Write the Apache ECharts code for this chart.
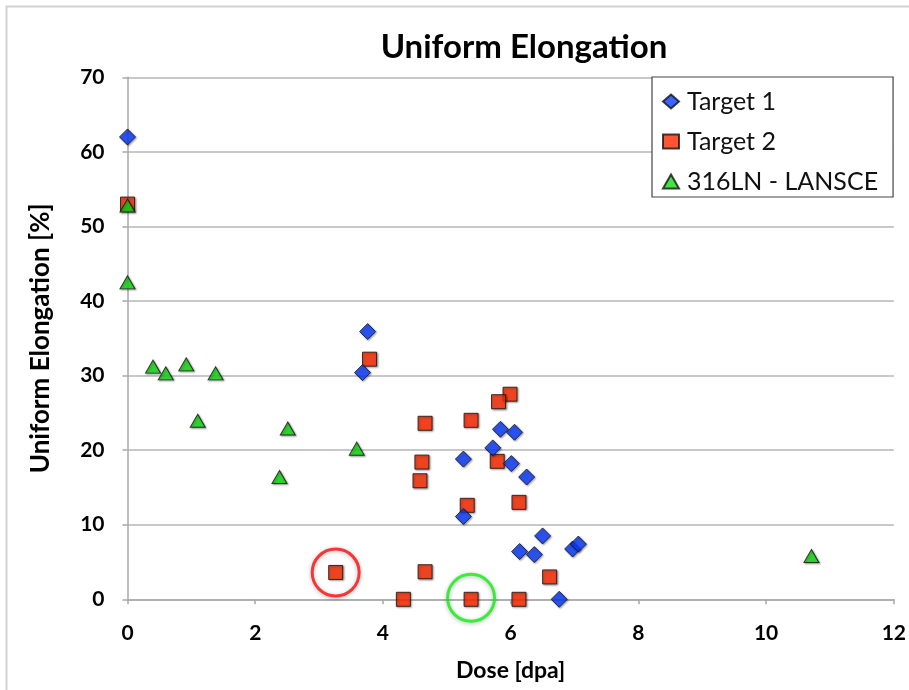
<!DOCTYPE html>
<html>
<head>
<meta charset="utf-8">
<script src="https://cdn.jsdelivr.net/npm/echarts@6/dist/echarts.min.js"></script>
<style>
html,body{margin:0;padding:0;background:#fff;}
#chart{width:909px;height:690px;}
</style>
</head>
<body>
<div id="chart"></div>
<script>
// ---- data ----
var target1X = [0, 3.76, 3.68, 5.84, 6.06, 5.72, 5.26, 6.01, 6.25, 5.26, 6.50, 6.14, 6.37, 6.97, 7.06, 6.76];
var target1Y = [62.0, 35.9, 30.4, 22.8, 22.4, 20.3, 18.8, 18.2, 16.4, 11.1, 8.5, 6.4, 6.0, 6.75, 7.4, 0];

var target2X = [0, 3.79, 3.26, 4.32, 5.99, 5.81, 4.66, 5.38, 4.61, 4.58, 5.79, 5.32, 6.13, 4.66, 6.61, 5.38, 6.13];
var target2Y = [53.0, 32.2, 3.6, 0, 27.5, 26.5, 23.6, 24.0, 18.4, 15.9, 18.5, 12.6, 13.0, 3.7, 3.0, 0, 0];

var lanscX = [0, 0, 0.40, 0.60, 0.92, 1.38, 1.10, 2.51, 2.38, 3.59, 10.71];
var lanscY = [52.8, 42.5, 31.2, 30.3, 31.5, 30.3, 23.95, 22.9, 16.4, 20.2, 5.8];

var circledRedX = [3.26];
var circledRedY = [3.6];
var circledGreenX = [5.38];
var circledGreenY = [0.2];

var seriesNames = ['Target 1', 'Target 2', '316LN - LANSCE'];
var chartTitle = 'Uniform Elongation';
var xAxisName = 'Dose [dpa]';
var yAxisName = 'Uniform Elongation [%]';

function pairs(xs, ys){ return xs.map(function(x,i){ return [x, ys[i]]; }); }

var font = 'Lato, "Open Sans", "Liberation Sans", sans-serif';
var markerShadow = {shadowBlur: 2, shadowColor: 'rgba(0,0,0,0.45)', shadowOffsetX: 1, shadowOffsetY: 1};

var chart = echarts.init(document.getElementById('chart'), null, {renderer: 'canvas'});
chart.setOption({
  animation: false,
  backgroundColor: '#fff',
  title: {
    text: chartTitle,
    left: 519, top: 26, textAlign: 'center',
    textStyle: {fontFamily: font, fontSize: 33, fontWeight: 'bold', color: '#000'}
  },
  graphic: [{
    type: 'rect', shape: {x: 6.5, y: 6.5, width: 1000, height: 1000},
    style: {fill: 'none', stroke: '#d2d2d2', lineWidth: 2}, z: -1, silent: true
  }],
  legend: {
    data: seriesNames,
    orient: 'vertical',
    left: 652, top: 77,
    padding: [12, 15, 3, 10],
    itemGap: 15,
    itemWidth: 16, itemHeight: 14,
    borderColor: '#444', borderWidth: 1.2,
    backgroundColor: '#fff',
    textStyle: {fontFamily: font, fontSize: 25, color: '#111', lineHeight: 25, padding: [0,0,0,3]}
  },
  grid: {left: 127.5, right: 14.7, top: 77.3, bottom: 90.7, containLabel: false},
  xAxis: {
    type: 'value', min: 0, max: 12, interval: 2,
    name: xAxisName, nameLocation: 'middle', nameGap: 60,
    nameTextStyle: {fontFamily: font, fontSize: 23, fontWeight: 'bold', color: '#000'},
    axisLine: {show: true, onZero: false, lineStyle: {color: '#a8a8a8', width: 1.5}},
    axisTick: {show: true, length: 5, lineStyle: {color: '#a8a8a8', width: 1.5}},
    axisLabel: {fontFamily: font, fontSize: 21, fontWeight: 'bold', color: '#000', margin: 23},
    splitLine: {show: false}
  },
  yAxis: {
    type: 'value', min: 0, max: 70, interval: 10,
    name: yAxisName, nameLocation: 'middle', nameGap: 74, nameRotate: 90,
    nameTextStyle: {fontFamily: font, fontSize: 26, fontWeight: 'bold', color: '#000'},
    axisLine: {show: true, lineStyle: {color: '#a8a8a8', width: 1.5}},
    axisTick: {show: true, length: 5, lineStyle: {color: '#a8a8a8', width: 1.5}},
    axisLabel: {fontFamily: font, fontSize: 21, fontWeight: 'bold', color: '#000', margin: 23},
    splitLine: {show: true, lineStyle: {color: '#c8c8c8', width: 2}}
  },
  series: [
    {
      name: seriesNames[0], type: 'scatter', symbol: 'diamond', symbolSize: 16,
      itemStyle: Object.assign({color: '#0a3cff', borderColor: '#111', borderWidth: 1}, markerShadow),
      data: pairs(target1X, target1Y), z: 3
    },
    {
      name: seriesNames[1], type: 'scatter', symbol: 'rect', symbolSize: 14,
      itemStyle: Object.assign({color: '#ff2a00', borderColor: '#111', borderWidth: 1}, markerShadow),
      data: pairs(target2X, target2Y), z: 2
    },
    {
      name: seriesNames[2], type: 'scatter', symbol: 'triangle', symbolSize: [15, 13],
      itemStyle: Object.assign({color: '#11dd11', borderColor: '#111', borderWidth: 1}, markerShadow),
      data: pairs(lanscX, lanscY), z: 4
    },
    {
      name: 'circleRed', type: 'scatter', symbol: 'circle', symbolSize: 47, silent: true,
      itemStyle: {color: 'rgba(0,0,0,0)', borderColor: '#ff0a0a', borderWidth: 3,
        shadowBlur: 4, shadowColor: 'rgba(0,0,0,0.35)', shadowOffsetY: 1},
      data: pairs(circledRedX, circledRedY), z: 5
    },
    {
      name: 'circleGreen', type: 'scatter', symbol: 'circle', symbolSize: 47, silent: true,
      itemStyle: {color: 'rgba(0,0,0,0)', borderColor: '#11f011', borderWidth: 3,
        shadowBlur: 4, shadowColor: 'rgba(0,0,0,0.35)', shadowOffsetY: 1},
      data: pairs(circledGreenX, circledGreenY), z: 5
    }
  ]
});
</script>
</body>
</html>
